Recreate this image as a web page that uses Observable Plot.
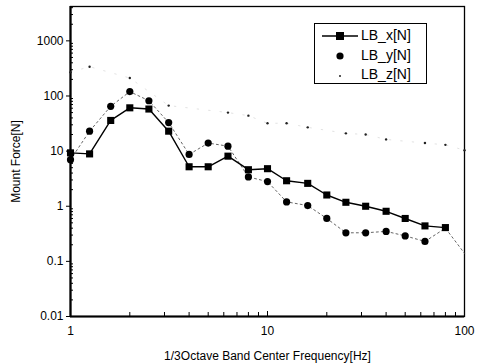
<!DOCTYPE html>
<html><head><meta charset="utf-8">
<script src="https://cdn.jsdelivr.net/npm/d3@7"></script>
<script src="https://cdn.jsdelivr.net/npm/@observablehq/plot@0.6"></script>
<style>
body{margin:0;background:#fff;font-family:"Liberation Sans",Arial,sans-serif;}
#wrap{position:relative;width:481px;height:364px;}
#legend{position:absolute;left:314px;top:23px;width:111px;height:59px;border:1.5px solid #000;background:#fff;font-size:14px;}
#legend .row{position:absolute;left:0;height:19px;line-height:19px;}
#legend svg{position:absolute;left:6px;top:2px;}
#legend span{position:absolute;left:46px;white-space:nowrap;}
</style></head>
<body><div id="wrap"></div>
<script>
const freq = [1,1.25,1.6,2,2.5,3.15,4,5,6.3,8,10,12.5,16,20,25,31.5,40,50,63,80,100];
const lbX = [9.3,8.9,36,61,58,23,5.2,5.2,8.1,4.6,4.8,2.9,2.6,1.6,1.18,1.0,0.81,0.6,0.44,0.41,null];
const lbY = [7,23,65,120,82,33,8.7,14,12.3,3.4,2.8,1.2,1.03,0.6,0.33,0.33,0.35,0.29,0.23,0.4,0.14];
const lbZ = [270,340,null,212,null,67,null,null,50,44,32,32,27,null,21,20,16.3,null,14,13,10.4];
const yTicks = [0.01,0.1,1,10,100,1000];
const yTickLabels = ["0.01","0.1","1","10","100","1000"];
const xTicks = [1,10,100];
const xTickLabels = ["1","10","100"];
const seriesNames = ["LB_x[N]","LB_y[N]","LB_z[N]"];

const yLab = new Map(yTicks.map((v,i)=>[v,yTickLabels[i]]));
const xLab = new Map(xTicks.map((v,i)=>[v,xTickLabels[i]]));
const rows = freq.map((f,i)=>({f, x:lbX[i], y:lbY[i], z:lbZ[i]}));
const minorY = [];
for (let e=-2;e<=3;e++) for (let k=2;k<=9;k++){const v=k*10**e; if(v<4200) minorY.push(v);}
const minorX = [];
for (let e=0;e<=1;e++) for (let k=2;k<=9;k++) minorX.push(k*10**e);

const chart = Plot.plot({
  width:481, height:364,
  marginLeft:70, marginRight:17, marginTop:6, marginBottom:48,
  style:{fontFamily:"Liberation Sans, Arial, sans-serif", fontSize:"12px", color:"#000", background:"#fff"},
  x:{type:"log", domain:[1,100]},
  y:{type:"log", domain:[0.01,4200]},
  marks:[
    Plot.frame({stroke:"#000", strokeWidth:1.3}),
    Plot.ruleX([1],{stroke:"#000", strokeWidth:2.2}),
    Plot.ruleY([0.01],{stroke:"#000", strokeWidth:2.2}),
    Plot.axisY(minorY,{anchor:"left", tickSize:-3, text:null, label:null}),
    Plot.axisY(yTicks,{anchor:"left", tickSize:4, tickPadding:3, tickFormat:d=>yLab.get(d), fontSize:12,
      label:"Mount Force[N]", labelAnchor:"center", labelArrow:"none", labelOffset:59}),
    Plot.axisX(minorX,{anchor:"bottom", tickSize:-4, text:null, label:null}),
    Plot.axisX(xTicks,{anchor:"bottom", tickSize:-5, tickPadding:15, tickFormat:d=>xLab.get(d), fontSize:12,
      label:"1/3Octave Band Center Frequency[Hz]", labelAnchor:"center", labelArrow:"none", labelOffset:43}),
    // LB_z faint dash line + tiny dots
    Plot.line(rows.filter(d=>d.z!=null),{x:"f", y:"z", stroke:"#888", strokeWidth:0.7, strokeDasharray:"1.5,10", strokeOpacity:0.35}),
    Plot.dot(rows.filter(d=>d.z!=null),{x:"f", y:"z", r:1.2, fill:"#222", stroke:"none"}),
    // LB_y dotted line + circles
    Plot.line(rows,{x:"f", y:"y", stroke:"#555", strokeWidth:0.9, strokeDasharray:"2,3"}),
    Plot.dot(rows.filter(d=>d.f<80),{x:"f", y:"y", r:3.6, fill:"#000", stroke:"none"}),
    // LB_x solid line + squares
    Plot.line(rows.filter(d=>d.x!=null),{x:"f", y:"x", stroke:"#000", strokeWidth:1.4}),
    Plot.dot(rows.filter(d=>d.x!=null),{x:"f", y:"x", symbol:"square", r:4, fill:"#000", stroke:"none"})
  ]
});
const wrap = document.getElementById("wrap");
wrap.appendChild(chart);

const lg = document.createElement("div");
lg.id = "legend";
const sym = [
  '<svg width="38" height="16"><line x1="1" y1="8" x2="37" y2="8" stroke="#000" stroke-width="1.4"/><rect x="15" y="4" width="8" height="8" fill="#000"/></svg>',
  '<svg width="38" height="16"><circle cx="19" cy="8" r="3.6" fill="#000"/></svg>',
  '<svg width="38" height="16"><circle cx="19" cy="9" r="1" fill="#222"/></svg>'
];
seriesNames.forEach((n,i)=>{
  const r = document.createElement("div");
  r.className="row"; r.style.top=(2+i*19.5)+"px"; r.style.width="100%";
  r.innerHTML = sym[i] + "<span>"+n+"</span>";
  lg.appendChild(r);
});
wrap.appendChild(lg);
</script></body></html>
